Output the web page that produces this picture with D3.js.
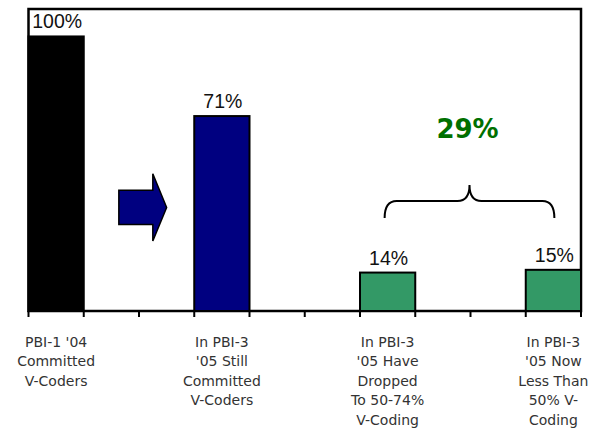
<!DOCTYPE html>
<html>
<head>
<meta charset="utf-8">
<script src="https://cdn.jsdelivr.net/npm/d3@7"></script>
<style>
  html, body { margin: 0; padding: 0; background: #fff; }
  svg { display: block; }
</style>
</head>
<body>
<svg id="chart" width="593" height="429"></svg>
<script>
// Share of committed voice-coders, 2004 vs 2005
const categories = [
  ["PBI-1 '04", "Committed", "V-Coders"],
  ["In PBI-3", "'05 Still", "Committed", "V-Coders"],
  ["In PBI-3", "'05 Have", "Dropped", "To 50-74%", "V-Coding"],
  ["In PBI-3", "'05 Now", "Less Than", "50% V-", "Coding"]
];
const values = [100, 71, 14, 15];
const valueLabels = ["100%", "71%", "14%", "15%"];
const barColors = ["#000000", "#000080", "#339966", "#339966"];
const combinedLabel = "29%";

const svg = d3.select("#chart");
const plotLeft = 28.5, plotRight = 581, plotTop = 9, plotBottom = 311;

const keys = categories.map((d, i) => i);
const x = d3.scaleBand().domain(keys).range([plotLeft, plotRight]).paddingInner(2 / 3).paddingOuter(0);
const y = d3.scaleLinear().domain([0, 110]).range([plotBottom, plotTop]);
const bw = x.bandwidth();

// plot frame
svg.append("rect")
  .attr("x", plotLeft).attr("y", plotTop)
  .attr("width", plotRight - plotLeft).attr("height", plotBottom - plotTop)
  .attr("fill", "none").attr("stroke", "#000").attr("stroke-width", 2.5);

// bars
svg.selectAll("rect.bar").data(values).join("rect")
  .attr("class", "bar")
  .attr("x", (d, i) => x(i))
  .attr("y", d => y(d))
  .attr("width", bw)
  .attr("height", d => y(0) - y(d))
  .attr("fill", (d, i) => barColors[i])
  .attr("stroke", "#000").attr("stroke-width", 2);

// axis ticks every half band
const tickXs = d3.range(0, 11).map(k => plotLeft + k * bw);
svg.selectAll("line.tick").data(tickXs).join("line")
  .attr("class", "tick")
  .attr("x1", d => d).attr("x2", d => d)
  .attr("y1", plotBottom).attr("y2", plotBottom + 6)
  .attr("stroke", "#000").attr("stroke-width", 2);

// value labels
svg.selectAll("text.val").data(values).join("text")
  .attr("class", "val")
  .attr("x", (d, i) => x(i) + bw / 2 + 1)
  .attr("y", d => y(d) - 8)
  .attr("text-anchor", "middle")
  .attr("font-family", "'Liberation Sans', Arial, sans-serif")
  .attr("font-size", 19.5)
  .attr("fill", "#111")
  .text((d, i) => valueLabels[i]);

// category labels
const catG = svg.selectAll("text.cat").data(categories).join("text")
  .attr("class", "cat")
  .attr("text-anchor", "middle")
  .attr("font-family", "'DejaVu Sans', Verdana, sans-serif")
  .attr("font-size", 14)
  .attr("fill", "#333");
catG.each(function (lines, i) {
  d3.select(this).selectAll("tspan").data(lines).join("tspan")
    .attr("x", x(i) + bw / 2)
    .attr("y", (l, j) => 347 + j * 19.4)
    .text(l => l);
});

// arrow between the first two bars
const ax = x(0);
const arrowPts = [
  [ax + bw * 1.635, y(44)],
  [ax + bw * 2.25, y(44)],
  [ax + bw * 2.25, y(50)],
  [ax + bw * 2.5, y(37.7)],
  [ax + bw * 2.25, y(25.5)],
  [ax + bw * 2.25, y(31.5)],
  [ax + bw * 1.635, y(31.5)]
];
svg.append("path")
  .attr("d", d3.line()(arrowPts) + "Z")
  .attr("fill", "#000080").attr("stroke", "#000").attr("stroke-width", 1.5);

// brace spanning the two green bars
const bx0 = x(2) + bw / 2 - 3, bx1 = x(3) + bw / 2 + 1;
const bm = (bx0 + bx1) / 2;
const yEnd = 218, yFlat = 201, yPeak = 185, r = 12;
const brace = d3.path();
brace.moveTo(bx0, yEnd);
brace.quadraticCurveTo(bx0, yFlat, bx0 + r, yFlat);
brace.lineTo(bm - r, yFlat);
brace.quadraticCurveTo(bm, yFlat, bm, yPeak);
brace.quadraticCurveTo(bm, yFlat, bm + r, yFlat);
brace.lineTo(bx1 - r, yFlat);
brace.quadraticCurveTo(bx1, yFlat, bx1, yEnd);
svg.append("path")
  .attr("d", brace.toString())
  .attr("fill", "none").attr("stroke", "#000").attr("stroke-width", 2);

svg.append("text")
  .attr("x", bm - 2)
  .attr("y", 138)
  .attr("text-anchor", "middle")
  .attr("font-family", "'DejaVu Sans', Verdana, sans-serif")
  .attr("font-weight", "bold")
  .attr("font-size", 26)
  .attr("fill", "#007000")
  .text(combinedLabel);
</script>
</body>
</html>
